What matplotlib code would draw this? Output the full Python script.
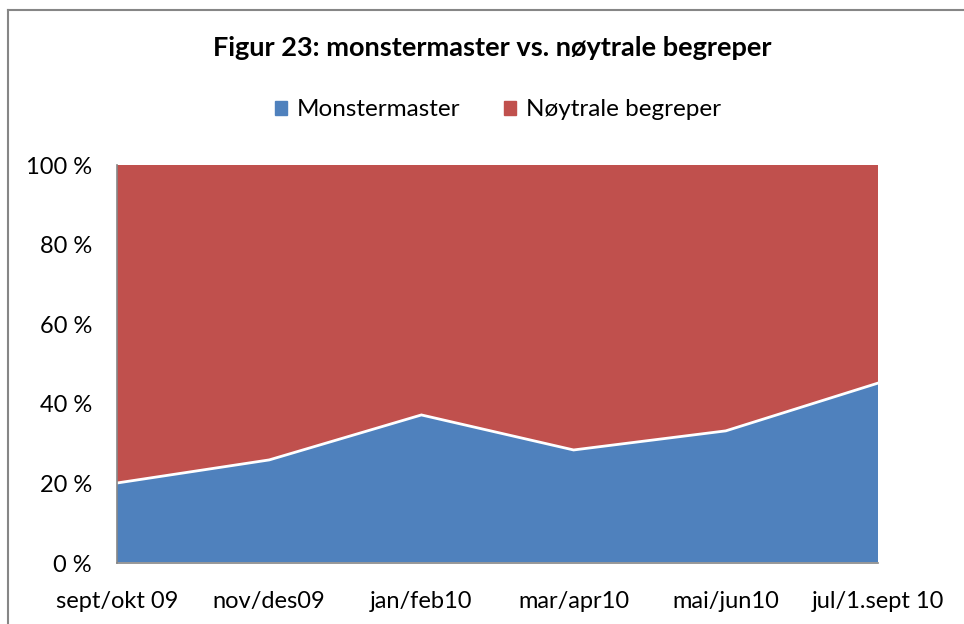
import matplotlib
matplotlib.use("Agg")
import matplotlib.pyplot as plt
from matplotlib.lines import Line2D
from matplotlib.patches import Patch
import numpy as np

plt.rcParams['font.family'] = ['Lato', 'DejaVu Sans']

categories = ["sept/okt 09", "nov/des09", "jan/feb10", "mar/apr10", "mai/jun10", "jul/1.sept 10"]
monstermaster = [20.1, 25.9, 37.2, 28.4, 33.2, 45.2]
noytrale = [100 - v for v in monstermaster]
yticks = [0, 20, 40, 60, 80, 100]
ytick_labels = ["0 %", "20 %", "40 %", "60 %", "80 %", "100 %"]

blue = "#4F81BD"
red = "#C0504D"

fig = plt.figure(figsize=(9.64, 6.24), dpi=100)
ax = fig.add_axes([117/964, 1-563/624, (878-117)/964, (563-165)/624])

x = np.arange(len(categories))
ax.stackplot(x, monstermaster, noytrale, colors=[blue, red], linewidth=0)
ax.plot(x, monstermaster, color="white", lw=2, solid_joinstyle="miter")
ax.plot(x, [0]*len(x), color="white", lw=2)

ax.set_xlim(x[0], x[-1])
ax.set_ylim(0, 100)
ax.set_yticks(yticks)
ax.set_yticklabels(ytick_labels, fontsize=17)
ax.set_xticks(x)
ax.set_xticklabels(categories, fontsize=17)
ax.tick_params(axis='both', length=0)
ax.tick_params(axis='x', pad=20)
ax.tick_params(axis='y', pad=18)
for s in ["top", "right"]:
    ax.spines[s].set_visible(False)
for s in ["left", "bottom"]:
    ax.spines[s].set_color("#868686")
    ax.spines[s].set_linewidth(1.2)

fig.text(492/964, 1-48/624, "Figur 23: monstermaster vs. nøytrale begreper",
         ha="center", va="center", fontsize=19.5, fontweight="bold")

handles = [Patch(color=blue), Patch(color=red)]
fig.legend(handles, ["Monstermaster", "Nøytrale begreper"], loc="center",
           bbox_to_anchor=(498/964, 1-110/624), ncol=2, frameon=False,
           fontsize=17.5, handlelength=0.5, handleheight=0.5, handletextpad=0.4,
           columnspacing=1.8)

# chart border
fig.add_artist(Line2D([8/964, 8/964], [0, 1-10/624], color="#868686", lw=1.5))
fig.add_artist(Line2D([8/964, 1], [1-10/624, 1-10/624], color="#868686", lw=1.5))

fig.savefig("out.png", dpi=100)
